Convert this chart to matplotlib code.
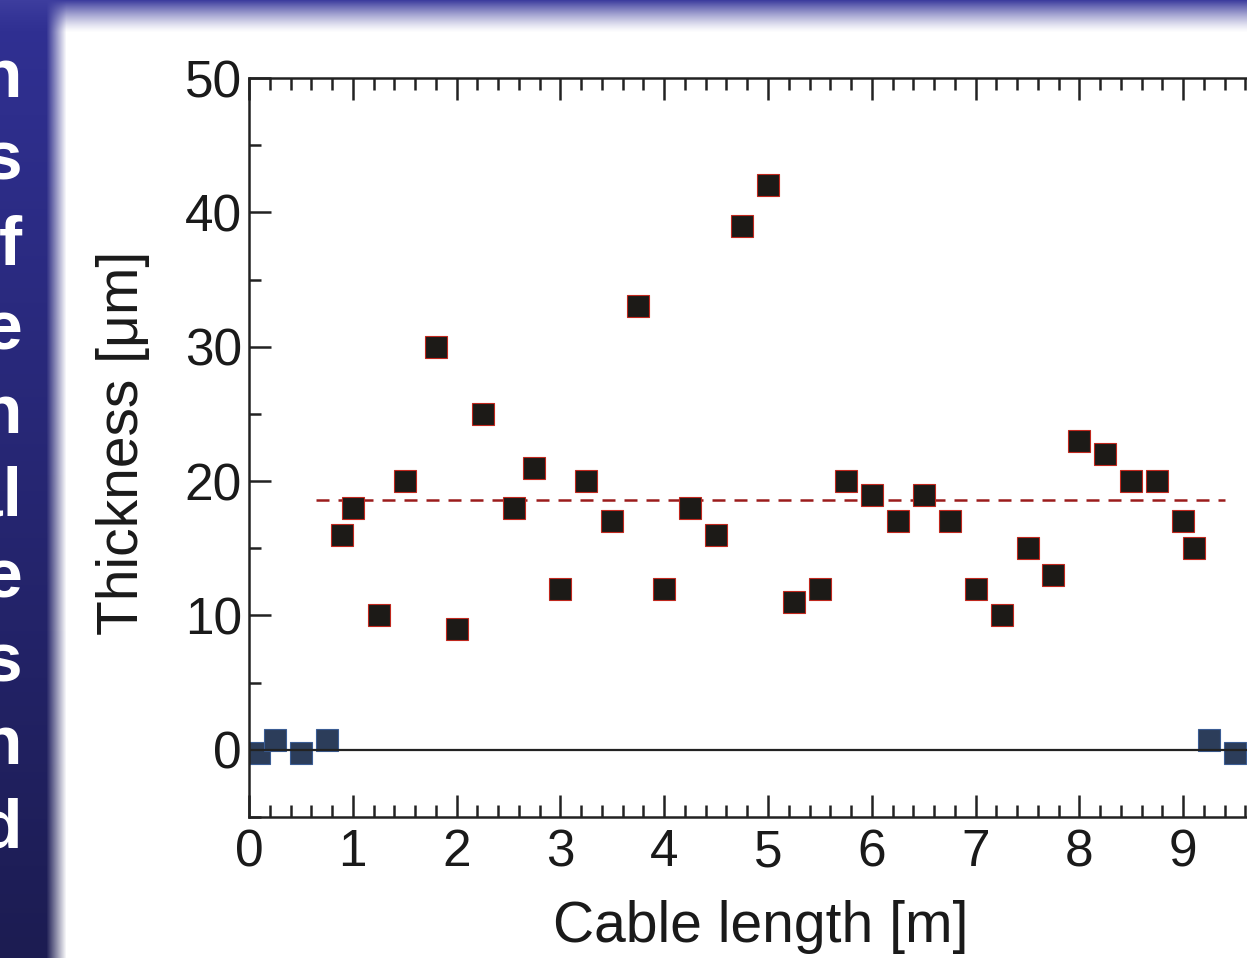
import numpy as np
import matplotlib.pyplot as plt
from matplotlib.ticker import MultipleLocator

plt.rcParams["font.family"] = ["Liberation Sans", "DejaVu Sans"]

# Coated cable sections (black squares)
cable_length = [0.9, 1.0, 1.25, 1.5, 1.8, 2.0, 2.25, 2.55, 2.75, 3.0,
                3.25, 3.5, 3.75, 4.0, 4.25, 4.5, 4.75, 5.0, 5.25, 5.5,
                5.75, 6.0, 6.25, 6.5, 6.75, 7.0, 7.25, 7.5, 7.75, 8.0,
                8.25, 8.5, 8.75, 9.0, 9.1]
thickness = [16, 18, 10, 20, 30, 9, 25, 18, 21, 12,
             20, 17, 33, 12, 18, 16, 39, 42, 11, 12,
             20, 19, 17, 19, 17, 12, 10, 15, 13, 23,
             22, 20, 20, 17, 15]

# Uncoated ends (blue squares)
bare_length = [0.1, 0.25, 0.5, 0.75, 9.25, 9.5]
bare_thickness = [-0.2, 0.7, -0.2, 0.7, 0.7, -0.2]

# Mean thickness line
mean_thickness = 18.6
mean_span = [0.65, 9.4]

x_ticks = list(range(0, 11))
x_tick_labels = [str(v) for v in range(0, 10)] + [""]

# Text of the slide cut off at the left edge
side_letters = ["n", "s", "f", "e", "n", "al", "e", "s", "n", "d"]
side_baselines = [97, 180, 265, 350, 433, 515, 598, 681, 764, 848]

W, H = 1247, 958
fig = plt.figure(figsize=(W / 100, H / 100), dpi=100)

# Slide background: dark blue side panel and a thin blue band on top
bg = fig.add_axes([0, 0, 1, 1], zorder=0)
bg.set_axis_off()
img = np.ones((H, W, 3))
yy = np.linspace(0, 1, H)[:, None]
xx = np.arange(W)[None, :]
top_col = np.array([0.19, 0.19, 0.58])
bot_col = np.array([0.11, 0.11, 0.32])
panel_col = top_col + (bot_col - top_col) * yy[..., None]
panel_a = np.clip((66 - xx) / 20.0, 0, 1)[..., None]
img = img * (1 - panel_a) + panel_col * panel_a
band_a = np.clip((32 - np.arange(H)) / 32.0, 0, 1)[:, None, None] ** 1.3
band_col = np.array([0.24, 0.24, 0.62])
img = img * (1 - band_a) + band_col * band_a
bg.imshow(img, extent=[0, W, H, 0], aspect="auto")
bg.set_xlim(0, W)
bg.set_ylim(H, 0)

for letter, base in zip(side_letters, side_baselines):
    fig.text(22 / W, 1 - base / H, letter, ha="right", va="baseline",
             color="white", fontsize=50, fontweight="bold")

# Main chart (right part runs past the edge of the picture)
ax = fig.add_axes([249 / W, 1 - 817 / H, 1038 / W, 739 / H], zorder=1)
ax.set_facecolor("none")

ax.axhline(0, color="#222222", lw=1.6, zorder=3)
ax.plot(mean_span, [mean_thickness, mean_thickness], color="#9b1c1c",
        lw=1.8, ls=(0, (5.2, 3.6)), zorder=2)
ax.plot(cable_length, thickness, "s", ms=15.5, mfc="#1c1a17",
        mec="#c0281e", mew=0.8, zorder=4)
ax.plot(bare_length, bare_thickness, "s", ms=15.5, mfc="#2c3d5a",
        mec="#3b5d94", mew=0.8, zorder=2)

ax.set_xlim(0, 10)
ax.set_ylim(-5, 50)
ax.set_xticks(x_ticks)
ax.set_xticklabels(x_tick_labels)
ax.xaxis.set_minor_locator(MultipleLocator(0.2))
ax.yaxis.set_major_locator(MultipleLocator(10))
ax.yaxis.set_minor_locator(MultipleLocator(5))
ax.tick_params(which="both", direction="in", top=True, right=False,
               width=1.8, color="#222222", labelsize=37,
               labelcolor="#1a1a1a")
ax.tick_params(which="major", length=16)
ax.tick_params(which="minor", length=8.5)
ax.tick_params(axis="x", pad=8)
ax.tick_params(axis="y", pad=5)
for side in ax.spines.values():
    side.set_linewidth(1.8)
    side.set_color("#222222")

ax.set_xlabel("Cable length [m]", fontsize=41, color="#1a1a1a")
ax.set_ylabel("Thickness [\u03bcm]", fontsize=41, color="#1a1a1a")
ax.xaxis.set_label_coords(0.493, -0.112)
ax.yaxis.set_label_coords(-0.095, 0.506)

fig.savefig("out.png", dpi=100)
